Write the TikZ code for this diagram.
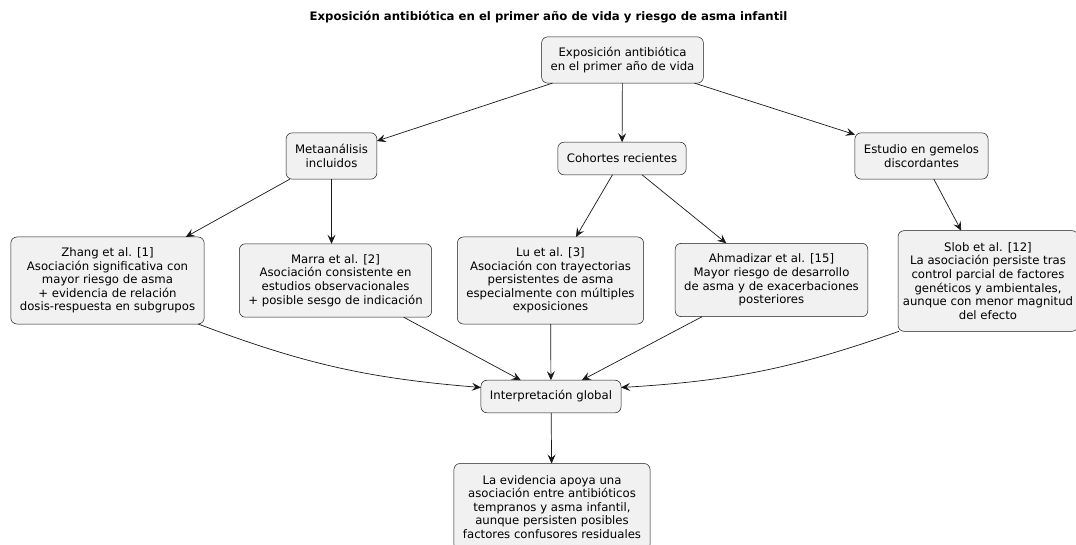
\documentclass[tikz,border=0pt]{standalone}
\usepackage{fontspec}
\setmainfont{DejaVu Sans}
\usepackage{tikz}
\usetikzlibrary{arrows.meta}
\definecolor{boxfill}{HTML}{F1F1F1}
\definecolor{linedark}{HTML}{181818}
\newcommand{\bodyfont}{\fontsize{11.7}{13.6}\selectfont}

\begin{document}
\begin{tikzpicture}[x=1pt,y=-1pt,
    every node/.style={outer sep=0pt, text=black},
    bx/.style={draw=linedark, line width=0.5pt, fill=boxfill, rounded corners=6pt,
        align=center, font=\bodyfont, inner xsep=9pt, inner ysep=2pt,
        minimum height={#1*13.6pt+19pt}},
    arr/.style={draw=linedark, line width=0.7pt, -{Stealth[length=9pt,width=8pt,inset=3.5pt]}}]
    \useasboundingbox (0,0) rectangle (1076,545);

    \node[font=\bodyfont\bfseries] (title) at (548.5,17.5) {Exposición antibiótica en el primer año de vida y riesgo de asma infantil};

    \node[bx=2] (expo) at (622.5,60) {Exposición antibiótica\\en el primer año de vida};

    \node[bx=2] (meta) at (331.5,156) {Metaanálisis\\incluidos};
    \node[bx=1] (cohort) at (622,158.5) {Cohortes recientes};
    \node[bx=2] (gemelos) at (921.5,156) {Estudio en gemelos\\discordantes};

    \node[bx=5] (zhang) at (107.5,280.5) {Zhang et al. [1]\\Asociación significativa con\\mayor riesgo de asma\\+ evidencia de relación\\dosis-respuesta en subgrupos};
    \node[bx=4] (marra) at (335.5,280.5) {Marra et al. [2]\\Asociación consistente en\\estudios observacionales\\+ posible sesgo de indicación};
    \node[bx=5] (lu) at (550.5,280.5) {Lu et al. [3]\\Asociación con trayectorias\\persistentes de asma\\especialmente con múltiples\\exposiciones};
    \node[bx=4] (ahmad) at (771.5,280) {Ahmadizar et al. [15]\\Mayor riesgo de desarrollo\\de asma y de exacerbaciones\\posteriores};
    \node[bx=6, inner xsep=0pt, minimum width=180pt] (slob) at (988,281) {Slob et al. [12]\\La asociación persiste tras\\control parcial de factores\\genéticos y ambientales,\\aunque con menor magnitud\\del efecto};

    \node[bx=1] (interp) at (551,396.5) {Interpretación global};
    \node[bx=5] (final) at (552,507) {La evidencia apoya una\\asociación entre antibióticos\\tempranos y asma infantil,\\aunque persisten posibles\\factores confusores residuales};

    % primer nivel
    \draw[arr] (expo) -- (meta);
    \draw[arr] (expo) -- (cohort);
    \draw[arr] (expo) -- (gemelos);

    % estudios
    \draw[arr] (meta) -- (zhang);
    \draw[arr] (meta.south) -- (meta.south |- marra.north);
    \draw[arr] (cohort) -- (lu);
    \draw[arr] (cohort) -- (ahmad);
    \draw[arr] (gemelos) -- (slob);

    % hacia la interpretacion
    \draw[arr] ([xshift=-6pt]zhang.south east) to[bend right=8] ([yshift=9pt]interp.west);
    \draw[arr] (marra) -- (interp);
    \draw[arr] (lu) -- (interp);
    \draw[arr] (ahmad) -- (interp);
    \draw[arr] ([xshift=1pt]slob.south west) to[bend left=8] ([yshift=9pt]interp.east);
    \draw[arr] (interp) -- (final);

    %\node at (552,560) (x) {};
\end{tikzpicture}
\end{document}
